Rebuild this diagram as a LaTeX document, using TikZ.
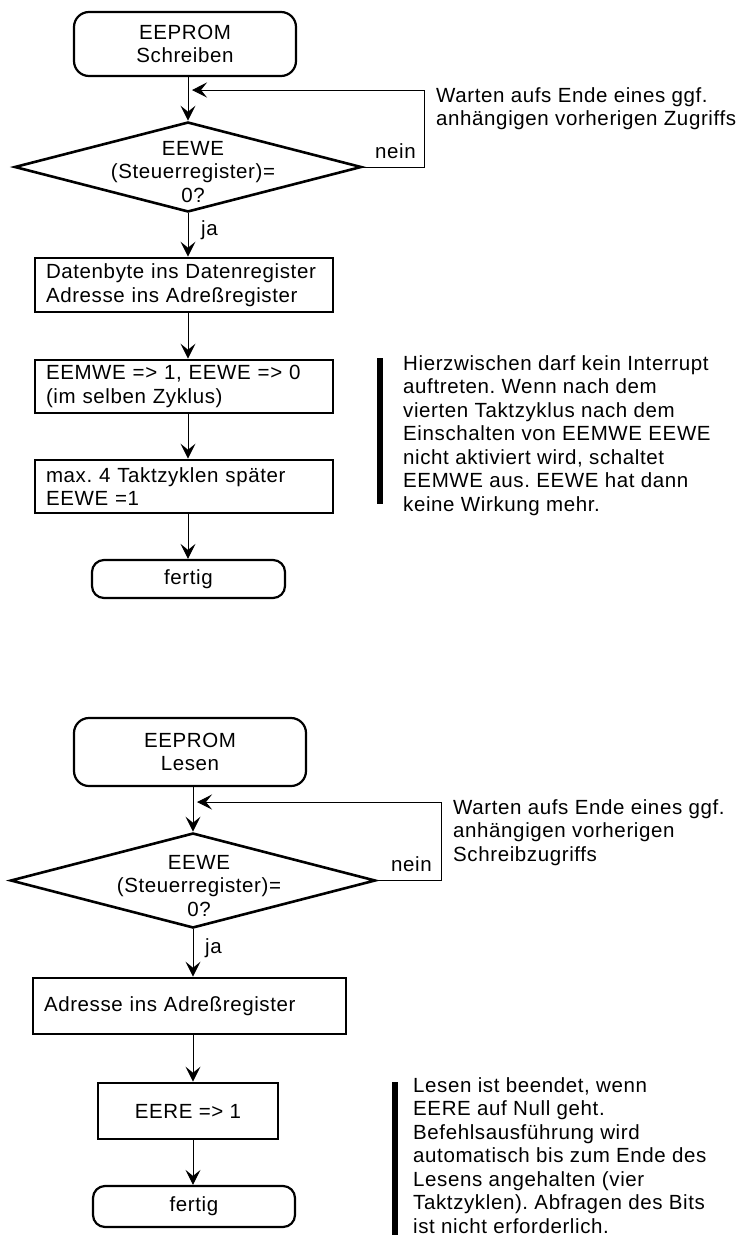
\documentclass[tikz,border=0pt]{standalone}
\usepackage{fontspec}
\setmainfont{Liberation Sans}[LetterSpace=3]
\usetikzlibrary{shapes.geometric,arrows.meta}
\tikzset{
  every node/.style={font=\fontsize{20.5}{23.5}\selectfont},
  term/.style={draw, line width=2.2pt, rounded corners=15pt, align=center, inner sep=0pt},
  proc/.style={draw, line width=2.6pt, inner xsep=11pt, inner ysep=0pt, align=left},
  dec/.style={draw, diamond, line width=2.6pt, inner sep=0pt},
  conn/.style={line width=1pt},
  arr/.style={line width=1pt, -{Stealth[length=15pt,width=15pt,inset=6pt]}},
  note/.style={align=left, inner sep=0pt, anchor=north west},
  lbl/.style={inner sep=0pt},
  bar/.style={fill=black, draw=none}
}
\begin{document}
\frenchspacing
\begin{tikzpicture}[x=1pt,y=-1pt]
\useasboundingbox (0,0) rectangle (743,1240);
% ---------- Schreiben ----------
\node[term, minimum width=222pt, minimum height=64pt] (s1) at (185,44) {EEPROM\\Schreiben};
\node[dec, minimum width=347pt, minimum height=90pt] (d1) at (188,167) {};
\node[align=center, inner sep=0pt] (d1t) at (193,172) {EEWE\\(Steuerregister)=\\0?};
\node[proc, text width=276pt, minimum height=54pt] (b1) at (184,285) {Datenbyte ins Datenregister\\Adresse ins Adreßregister};
\node[proc, text width=276pt, minimum height=53pt] (b2) at (184,386.5) {EEMWE => 1, EEWE => 0\\(im selben Zyklus)};
\node[proc, text width=276pt, minimum height=53pt] (b3) at (184,486.5) {max. 4 Taktzyklen später\\EEWE =1};
\node[term, rounded corners=12pt, minimum width=193pt, minimum height=38pt] (f1) at (188.5,579) {fertig};

\draw[arr] (s1.south -| d1.north) -- (d1.north);
\draw[arr] (d1.south) -- (d1.south |- b1.north);
\draw[arr] (b1.south -| d1.north) -- (b2.north -| d1.north);
\draw[arr] (b2.south -| d1.north) -- (b3.north -| d1.north);
\draw[arr] (b3.south -| d1.north) -- (f1.north -| d1.north);

\coordinate (c1) at (424,90);
\coordinate (t1) at (192,90);
\draw[arr] (d1.east) -| (c1) -- (t1);
\node[lbl, anchor=base east] (n1) at (416,158) {nein};
\node[lbl, anchor=base west] (j1) at (201,235) {ja};
\node[note] (w1) at (436,87) {Warten aufs Ende eines ggf.\\anhängigen vorherigen Zugriffs};

\fill[bar] (377,358) rectangle (383,504);
\node[note] (h1) at (403,355) {Hierzwischen darf kein Interrupt\\auftreten. Wenn nach dem\\vierten Taktzyklus nach dem\\Einschalten von EEMWE EEWE\\nicht aktiviert wird, schaltet\\EEMWE aus. EEWE hat dann\\keine Wirkung mehr.};

% ---------- Lesen ----------
\node[term, minimum width=232pt, minimum height=68pt] (s2) at (190,752) {EEPROM\\Lesen};
\node[dec, minimum width=365pt, minimum height=95pt] (d2) at (193,880.5) {};
\node[align=center, inner sep=0pt] (d2t) at (199,886) {EEWE\\(Steuerregister)=\\0?};
\node[proc, text width=291pt, minimum height=56pt] (b4) at (189.5,1006) {Adresse ins Adreßregister};
\node[proc, align=center, minimum width=180pt, minimum height=56pt] (b5) at (188,1111) {EERE => 1};
\node[term, rounded corners=12pt, minimum width=202pt, minimum height=41pt] (f2) at (194,1206.5) {fertig};

\draw[arr] (s2.south -| d2.north) -- (d2.north);
\draw[arr] (d2.south) -- (d2.south |- b4.north);
\draw[arr] (b4.south -| d2.north) -- (b5.north -| d2.north);
\draw[arr] (b5.south -| d2.north) -- (f2.north -| d2.north);

\coordinate (c2) at (441,802);
\coordinate (t2) at (197,802);
\draw[arr] (d2.east) -| (c2) -- (t2);
\node[lbl, anchor=base east] (n2) at (432,871) {nein};
\node[lbl, anchor=base west] (j2) at (205,953) {ja};
\node[note] (w2) at (453,799) {Warten aufs Ende eines ggf.\\anhängigen vorherigen\\Schreibzugriffs};

\fill[bar] (392,1082) rectangle (398,1235);
\node[note] (l2) at (413,1077) {Lesen ist beendet, wenn\\EERE auf Null geht.\\Befehlsausführung wird\\automatisch bis zum Ende des\\Lesens angehalten (vier\\Taktzyklen). Abfragen des Bits\\ist nicht erforderlich.};
\end{tikzpicture}
\end{document}
